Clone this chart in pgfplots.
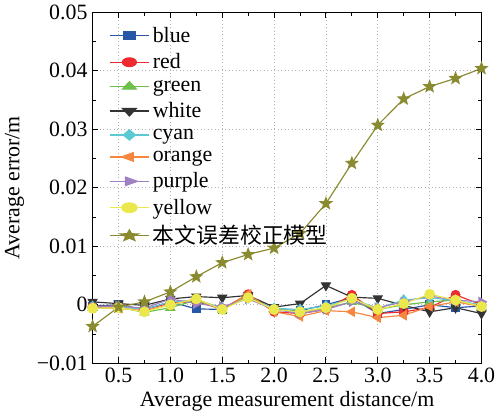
\documentclass[border=0pt]{standalone}
\usepackage{pgfplots}
\pgfplotsset{compat=1.18}
\usepackage{fontspec}
\setmainfont{Liberation Serif}
\newfontfamily\cjk{Noto Sans CJK SC}
\definecolor{cblue}{HTML}{2856A6}
\definecolor{cred}{HTML}{EE2A2E}
\definecolor{cgreen}{HTML}{6CC04A}
\definecolor{cblack}{HTML}{333333}
\definecolor{ccyan}{HTML}{5CC8D2}
\definecolor{corange}{HTML}{F7873E}
\definecolor{cpurple}{HTML}{A07FC2}
\definecolor{cyellow}{HTML}{EAE84C}
\definecolor{colive}{HTML}{8A8A30}
\pgfdeclareplotmark{fstar}{%
  \pgfpathmoveto{\pgfqpointpolar{90}{\pgfplotmarksize}}%
  \pgfpathlineto{\pgfqpointpolar{126}{0.42\pgfplotmarksize}}%
  \pgfpathlineto{\pgfqpointpolar{162}{\pgfplotmarksize}}%
  \pgfpathlineto{\pgfqpointpolar{198}{0.42\pgfplotmarksize}}%
  \pgfpathlineto{\pgfqpointpolar{234}{\pgfplotmarksize}}%
  \pgfpathlineto{\pgfqpointpolar{270}{0.42\pgfplotmarksize}}%
  \pgfpathlineto{\pgfqpointpolar{306}{\pgfplotmarksize}}%
  \pgfpathlineto{\pgfqpointpolar{342}{0.42\pgfplotmarksize}}%
  \pgfpathlineto{\pgfqpointpolar{18}{\pgfplotmarksize}}%
  \pgfpathlineto{\pgfqpointpolar{54}{0.42\pgfplotmarksize}}%
  \pgfpathclose
  \pgfusepathqfillstroke}
\begin{document}
\begin{tikzpicture}
\begin{axis}[
  scale only axis,
  width=267pt, height=241pt,
  xmin=0.25, xmax=4.0, ymin=-0.01, ymax=0.05,
  scaled y ticks=false, scaled x ticks=false,
  /pgf/number format/assume math mode=true,
  xtick={0.5,1.0,...,4.0},
  xticklabels={0.5,1.0,1.5,2.0,2.5,3.0,3.5,4.0},
  minor x tick num=1,
  ytick={-0.01,0,0.01,0.02,0.03,0.04,0.05},
  yticklabels={−0.01,0,0.01,0.02,0.03,0.04,0.05},
  minor y tick num=1,
  tick align=inside,
  major tick length=4pt, minor tick length=2.5pt,
  tick style={black, line width=0.7pt},
  axis line style={black, line width=0.9pt},
  grid=major,
  grid style={gray!60, dotted, line width=0.5pt},
  font=\fontsize{15}{18}\selectfont,
  tick label style={font=\fontsize{15}{18}\selectfont},
  xlabel={Average measurement distance/m},
  ylabel={Average error/m},
  xlabel style={yshift=1pt},
  ylabel style={yshift=2pt},
  legend style={draw=none, fill=none, font=\fontsize{15}{18}\selectfont, row sep=2.2pt, at={(0.03,0.975)}, anchor=north west},
  legend cell align=left,
  legend image post style={xscale=1.6},
  every axis plot/.append style={line width=0.8pt},
]
\addplot[cblue, mark=square*, mark size=2.6pt] coordinates {(0.25,-0.0002)(0.5,0.0)(0.75,-0.0008)(1.0,0.0005)(1.25,-0.0007)(1.5,-0.0008)(1.75,0.0015)(2.0,-0.0008)(2.25,-0.001)(2.5,0.0)(2.75,0.0012)(3.0,-0.0015)(3.25,-0.0008)(3.5,0.0)(3.75,-0.0005)(4.0,-0.0002)};
\addlegendentry{blue}
\addplot[cred, mark=*, mark size=3pt] coordinates {(0.25,-0.0003)(0.5,-0.0002)(0.75,-0.0008)(1.0,0.0003)(1.25,0.0005)(1.5,-0.0007)(1.75,0.0018)(2.0,-0.0012)(2.25,-0.0015)(2.5,-0.0008)(2.75,0.0017)(3.0,-0.0015)(3.25,-0.0012)(3.5,-0.0005)(3.75,0.0017)(4.0,0.0)};
\addlegendentry{red}
\addplot[cgreen, mark=triangle*, mark size=3.4pt] coordinates {(0.25,-0.0005)(0.5,-0.0004)(0.75,-0.0013)(1.0,-0.0005)(1.25,0.0008)(1.5,-0.0008)(1.75,0.0015)(2.0,-0.0008)(2.25,-0.0012)(2.5,-0.0006)(2.75,0.0005)(3.0,-0.0008)(3.25,0.0)(3.5,0.0005)(3.75,0.0008)(4.0,-0.0003)};
\addlegendentry{green}
\addplot[cblack, mark=triangle*, mark options={rotate=180}, mark size=3.4pt] coordinates {(0.25,0.0005)(0.5,0.0002)(0.75,-0.0001)(1.0,0.001)(1.25,0.0014)(1.5,0.0012)(1.75,0.0016)(2.0,-0.0004)(2.25,0.0002)(2.5,0.0033)(2.75,0.0013)(3.0,0.0011)(3.25,-0.0001)(3.5,-0.0012)(3.75,-0.0005)(4.0,-0.0015)};
\addlegendentry{white}
\addplot[ccyan, mark=diamond*, mark size=3.5pt] coordinates {(0.25,-0.0003)(0.5,-0.0003)(0.75,-0.0008)(1.0,0.0005)(1.25,0.0008)(1.5,-0.0005)(1.75,0.0012)(2.0,-0.0006)(2.25,-0.0008)(2.5,-0.0002)(2.75,0.001)(3.0,-0.0006)(3.25,0.0008)(3.5,0.0012)(3.75,0.0007)(4.0,0.0)};
\addlegendentry{cyan}
\addplot[corange, mark=triangle*, mark options={rotate=90}, mark size=3.4pt] coordinates {(0.25,-0.0005)(0.5,-0.0006)(0.75,-0.001)(1.0,0.0)(1.25,0.001)(1.5,-0.0008)(1.75,0.0018)(2.0,-0.0012)(2.25,-0.002)(2.5,-0.001)(2.75,-0.0012)(3.0,-0.0022)(3.25,-0.0018)(3.5,-0.0003)(3.75,0.0005)(4.0,-0.0003)};
\addlegendentry{orange}
\addplot[cpurple, mark=triangle*, mark options={rotate=-90}, mark size=3.4pt] coordinates {(0.25,-0.0004)(0.5,-0.0002)(0.75,-0.0006)(1.0,0.001)(1.25,0.0002)(1.5,-0.0003)(1.75,0.001)(2.0,-0.0008)(2.25,-0.0015)(2.5,-0.0008)(2.75,0.0005)(3.0,-0.0005)(3.25,0.0005)(3.5,0.0015)(3.75,0.0008)(4.0,0.0005)};
\addlegendentry{purple}
\addplot[cyellow, mark=*, mark size=3.3pt] coordinates {(0.25,-0.0006)(0.5,-0.0005)(0.75,-0.0012)(1.0,0.0)(1.25,0.001)(1.5,-0.0008)(1.75,0.0012)(2.0,-0.0008)(2.25,-0.0012)(2.5,-0.0005)(2.75,0.0011)(3.0,-0.0008)(3.25,0.0002)(3.5,0.0018)(3.75,0.0008)(4.0,-0.0003)};
\addlegendentry{yellow}
\addplot[colive, mark=fstar, mark size=4pt, mark options={fill=colive}] coordinates {(0.25,-0.0037)(0.5,-0.0004)(0.75,0.0005)(1.0,0.0022)(1.25,0.0048)(1.5,0.0072)(1.75,0.0086)(2.0,0.0097)(2.25,0.0122)(2.5,0.0173)(2.75,0.0242)(3.0,0.0307)(3.25,0.0352)(3.5,0.0373)(3.75,0.0387)(4.0,0.0404)};
\addlegendentry{{\cjk 本文误差校正模型}}
\end{axis}
\end{tikzpicture}
\end{document}
